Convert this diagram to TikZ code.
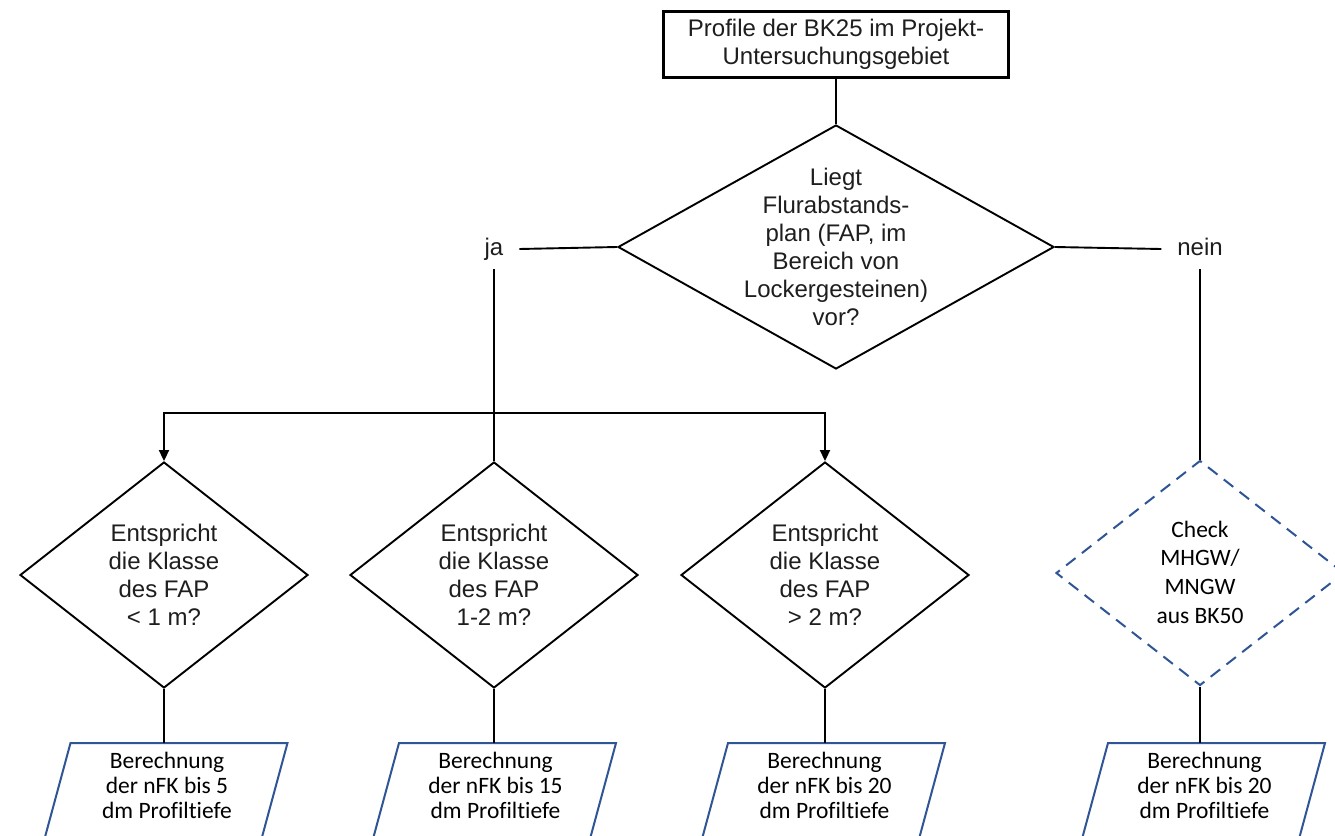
\documentclass[tikz,border=0pt]{standalone}
\usepackage{fontspec}
\setmainfont{Liberation Sans}
\newfontfamily\calibrifont[Ligatures={NoCommon,NoRare,NoDiscretionary}]{Carlito}
\usetikzlibrary{shapes.geometric,arrows.meta}
\definecolor{obl}{RGB}{47,85,151}
\definecolor{txtg}{RGB}{30,30,30}
\newcommand\outpara[3]{%
  \draw[outbox] ({#2-96.5},743) -- ({#2+120.5},743) -- ({#2+120.5-29},850) -- ({#2-96.5-29},850) -- cycle;
  \coordinate (#1top) at ({#2+12},743);
  \node[ctext] (#1) at (#2,785) {#3};
}
\begin{document}
\begin{tikzpicture}[x=1pt,y=-1pt,
  line/.style={line width=1.9pt, black},
  arr/.style={line, -{Triangle[length=11pt,width=10pt]}},
  dec/.style={diamond, draw, line width=1.9pt, inner sep=0pt, minimum width=288pt, minimum height=226pt},
  qtext/.style={align=center, font=\fontsize{24}{28}\selectfont, text=txtg},
  ctext/.style={align=center, font=\calibrifont\fontsize{23.5}{25}\selectfont, text=black},
  lbl/.style={font=\fontsize{24}{28}\selectfont, text=txtg, inner sep=0pt, text height=17pt, text depth=5pt, outer xsep=16pt, outer ysep=9pt},
  outbox/.style={draw=obl, line width=2pt, line join=miter},
]
\clip (0,0) rectangle (1335,835);
\fill[white] (0,0) rectangle (1335,835);

% top box
\node[draw, line width=3pt, minimum width=345pt, minimum height=66pt, inner sep=0pt, align=center,
  font=\fontsize{24}{27.5}\selectfont, text=txtg] (top) at (836,44.5) {Profile der BK25 im Projekt-\\Untersuchungsgebiet};

% main decision
\node[dec, minimum width=436pt, minimum height=244pt] (q) at (836,247) {};
\node[qtext] (qt) at (q.center) {Liegt\\Flurabstands-\\plan (FAP, im\\Bereich von\\Lockergesteinen)\\vor?};

% branch labels
\node[lbl, anchor=base] (ja) at (494,255) {ja};
\node[lbl, anchor=base] (nein) at (1200,255) {nein};

% second-level decisions
\node[dec] (m1) at (164,575) {};
\node[qtext] (m1t) at (m1.center) {Entspricht\\die Klasse\\des FAP\\< 1 m?};
\node[dec] (m2) at (494,575) {};
\node[qtext] (m2t) at (m2.center) {Entspricht\\die Klasse\\des FAP\\1-2 m?};
\node[dec] (m3) at (825,575) {};
\node[qtext] (m3t) at (m3.center) {Entspricht\\die Klasse\\des FAP\\> 2 m?};
\node[diamond, draw=obl, line width=2pt, dash pattern=on 12pt off 8pt, inner sep=0pt,
  minimum width=288pt, minimum height=225pt] (d4) at (1200,573) {};
\node[align=center, font=\calibrifont\fontsize{23.5}{28.7}\selectfont] (d4t) at (1200,572) {Check\\MHGW/\\MNGW\\aus BK50};

% outputs
\outpara{p1}{167}{Berechnung\\der nFK bis 5\\dm Profiltiefe}
\outpara{p2}{495.5}{Berechnung\\der nFK bis 15\\dm Profiltiefe}
\outpara{p3}{824.5}{Berechnung\\der nFK bis 20\\dm Profiltiefe}
\outpara{p4}{1204.5}{Berechnung\\der nFK bis 20\\dm Profiltiefe}

% connectors
\draw[line] (top.south) -- (q.north);
\draw[line] (q.west) -- (ja.east);
\draw[line] (q.east) -- (nein.west);
\draw[line] (ja.south) -- (m2.north);
\coordinate (br) at (494,413);
\draw[arr] (br) -| (m1.north);
\draw[arr] (br) -| (m3.north);
\draw[line] (nein.south) -- (d4.north);
\draw[line] (m1.south) -- (m1.south |- p1top);
\draw[line] (m2.south) -- (m2.south |- p2top);
\draw[line] (m3.south) -- (m3.south |- p3top);
\draw[line] (d4.south) -- (d4.south |- p4top);
\end{tikzpicture}
\end{document}
